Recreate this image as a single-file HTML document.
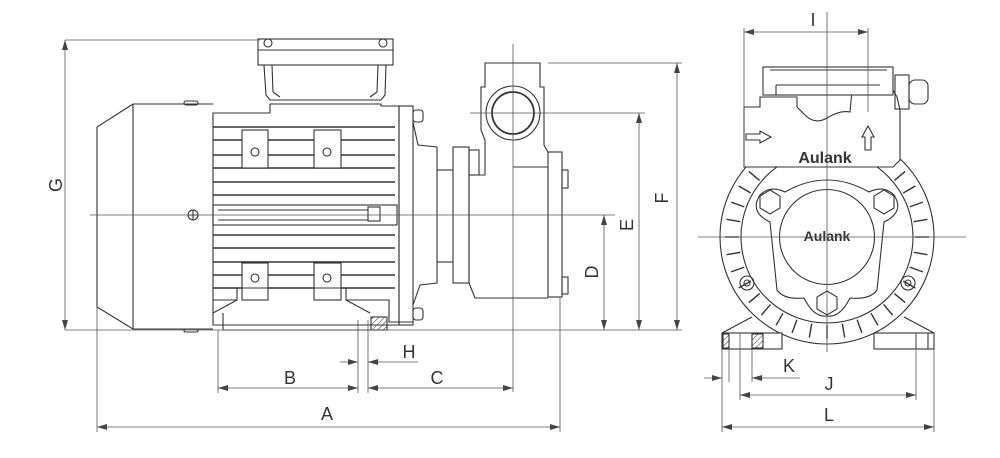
<!DOCTYPE html>
<html><head><meta charset="utf-8"><style>
html,body{margin:0;padding:0;background:#fff}
svg{display:block}
text{font-family:"Liberation Sans",sans-serif;fill:#333}
</style></head><body>
<svg width="1000" height="458" viewBox="0 0 1000 458" xmlns="http://www.w3.org/2000/svg">
<defs>
<marker id="ar" viewBox="0 0 10 6" refX="10" refY="3" markerWidth="10" markerHeight="6" orient="auto-start-reverse" markerUnits="userSpaceOnUse"><path d="M0,0 L10,3 L0,6 z" fill="#444"/></marker>
<pattern id="hatch" width="4" height="4" patternUnits="userSpaceOnUse" patternTransform="rotate(45)"><line x1="0" y1="0" x2="0" y2="4" stroke="#333" stroke-width="1"/></pattern>
</defs>
<rect width="1000" height="458" fill="#fff"/>

<!-- ===== LEFT VIEW ===== -->
<g fill="none" stroke="#333" stroke-width="1.1">
<path d="M213,104 L133,104 L97,127 L97,307 L133,329 L213,329"/>
<line x1="133" y1="104" x2="133" y2="329"/>
<rect x="184" y="101" width="14" height="4" rx="2"/>
<rect x="184" y="329" width="14" height="3" rx="1.5"/>
<circle cx="193" cy="215" r="5"/><line x1="188" y1="215" x2="198" y2="215"/><line x1="193" y1="210" x2="193" y2="220"/>
<path d="M213,113 L270,113 L270,104 L381,104 L381,106 L399,106 L399,325 L213,325 Z"/>
<g stroke-width="1.6">
<line x1="213" y1="127" x2="395" y2="127"/><line x1="213" y1="140" x2="395" y2="140"/>
<line x1="213" y1="155" x2="395" y2="155"/><line x1="213" y1="168" x2="395" y2="168"/>
<line x1="213" y1="182" x2="395" y2="182"/><line x1="213" y1="195" x2="395" y2="195"/>
<line x1="213" y1="235" x2="395" y2="235"/><line x1="213" y1="248" x2="395" y2="248"/>
<line x1="213" y1="262" x2="395" y2="262"/><line x1="213" y1="275" x2="395" y2="275"/>
<line x1="213" y1="288" x2="395" y2="288"/>
</g>
<rect x="213" y="205" width="184" height="20"/>
<line x1="218" y1="210" x2="368" y2="210"/><line x1="218" y1="220" x2="368" y2="220"/>
<rect x="368" y="207" width="12" height="14"/>
<rect x="242" y="130" width="26" height="38" fill="#fff"/><rect x="314" y="130" width="27" height="38" fill="#fff"/>
<rect x="242" y="263" width="26" height="37" fill="#fff"/><rect x="314" y="263" width="27" height="37" fill="#fff"/>
<circle cx="255" cy="152" r="4"/><circle cx="327" cy="152" r="4"/>
<circle cx="255" cy="278" r="4"/><circle cx="327" cy="278" r="4"/>
<rect x="258" y="39" width="135" height="26"/>
<line x1="258" y1="50" x2="393" y2="50"/>
<circle cx="268" cy="43" r="4"/><circle cx="383" cy="43" r="4"/>
<path d="M264,65 L266,95 L270,100 L381,100 L385,95 L386,65"/>
<line x1="272" y1="65" x2="273" y2="92"/><line x1="378" y1="65" x2="377" y2="92"/>
<path d="M273,92 L280,97 M377,92 L370,97"/>
<path d="M213,300 L237,300 L237,288 L346,288 L346,300 L389,300 L389,322 L413,322"/>
<path d="M213,313 L237,300 M346,300 L370,313"/>
<path d="M223,313 L223,330 L389,330"/>
<rect x="371" y="317" width="16" height="13" fill="url(#hatch)"/>
<rect x="399" y="106" width="14" height="219"/>
<rect x="413" y="110" width="10" height="12" rx="3"/><rect x="413" y="308" width="10" height="12" rx="3"/>
<path d="M413,122 L418,145 L437,147 L437,283 L420,285 L413,305"/>
<line x1="437" y1="170" x2="453" y2="170"/><line x1="437" y1="262" x2="453" y2="262"/>
<rect x="453" y="147" width="16" height="136"/>
<rect x="469" y="150" width="10" height="25"/>
<path d="M469,175 L485,175 L485,140 L481,130 L481,87 L485,87 L485,63 L540,63 L540,87 L544,87 L544,145 L548,152"/>
<path d="M469,175 L469,283 L475,298 L548,298"/>
<line x1="513" y1="167" x2="548" y2="167"/>
<rect x="548" y="152" width="14" height="145"/>
<rect x="562" y="170" width="6" height="18"/><rect x="562" y="277" width="6" height="17"/>
<circle cx="513" cy="113" r="27"/>
<circle cx="513" cy="113" r="21" stroke-width="1.8"/>
</g>

<g stroke="#555" stroke-width="0.8" fill="none">
<line x1="90" y1="215" x2="615" y2="215"/>
<line x1="513" y1="44" x2="513" y2="392"/>
<line x1="470" y1="113" x2="645" y2="113"/>
<line x1="548" y1="63" x2="682" y2="63"/>
<line x1="65" y1="40" x2="260" y2="40"/>
<line x1="65" y1="330" x2="682" y2="330"/>
<line x1="65" y1="40" x2="65" y2="330" marker-start="url(#ar)" marker-end="url(#ar)"/>
<line x1="604" y1="215" x2="604" y2="330" marker-start="url(#ar)" marker-end="url(#ar)"/>
<line x1="639" y1="113" x2="639" y2="330" marker-start="url(#ar)" marker-end="url(#ar)"/>
<line x1="677" y1="63" x2="677" y2="330" marker-start="url(#ar)" marker-end="url(#ar)"/>
<line x1="97" y1="307" x2="97" y2="432"/>
<line x1="560" y1="297" x2="560" y2="432"/>
<line x1="218" y1="330" x2="218" y2="393"/>
<line x1="358" y1="320" x2="358" y2="393"/>
<line x1="368" y1="320" x2="368" y2="393"/>
<line x1="218" y1="388" x2="358" y2="388" marker-start="url(#ar)" marker-end="url(#ar)"/>
<line x1="368" y1="388" x2="513" y2="388" marker-start="url(#ar)" marker-end="url(#ar)"/>
<line x1="340" y1="362" x2="358" y2="362" marker-end="url(#ar)"/>
<line x1="418" y1="362" x2="368" y2="362" marker-end="url(#ar)"/>
<line x1="97" y1="427" x2="560" y2="427" marker-start="url(#ar)" marker-end="url(#ar)"/>
</g>
<g font-size="18">
<text x="62" y="185" transform="rotate(-90 62 185)" text-anchor="middle">G</text>
<text x="598" y="272" transform="rotate(-90 598 272)" text-anchor="middle">D</text>
<text x="633" y="225" transform="rotate(-90 633 225)" text-anchor="middle">E</text>
<text x="668" y="198" transform="rotate(-90 668 198)" text-anchor="middle">F</text>
<text x="290" y="384" text-anchor="middle">B</text>
<text x="409" y="358" text-anchor="middle">H</text>
<text x="437" y="384" text-anchor="middle">C</text>
<text x="327" y="420" text-anchor="middle">A</text>
</g>

<!-- ===== RIGHT VIEW ===== -->
<g fill="none" stroke="#333" stroke-width="1.1">
<circle cx="827" cy="237" r="107"/>
<circle cx="827" cy="237" r="86"/>
<g stroke-width="1.4">
<line x1="915" y1="237" x2="929" y2="237" transform="rotate(-40 827 237)"/>
<line x1="915" y1="237" x2="929" y2="237" transform="rotate(-30 827 237)"/>
<line x1="915" y1="237" x2="929" y2="237" transform="rotate(-20 827 237)"/>
<line x1="915" y1="237" x2="929" y2="237" transform="rotate(-10 827 237)"/>
<line x1="915" y1="237" x2="929" y2="237"/>
<line x1="915" y1="237" x2="929" y2="237" transform="rotate(10 827 237)"/>
<line x1="915" y1="237" x2="929" y2="237" transform="rotate(20 827 237)"/>
<line x1="915" y1="237" x2="929" y2="237" transform="rotate(30 827 237)"/>
<line x1="915" y1="237" x2="929" y2="237" transform="rotate(40 827 237)"/>
<line x1="915" y1="237" x2="929" y2="237" transform="rotate(50 827 237)"/>
<line x1="915" y1="237" x2="929" y2="237" transform="rotate(60 827 237)"/>
<line x1="915" y1="237" x2="929" y2="237" transform="rotate(70 827 237)"/>
<line x1="915" y1="237" x2="929" y2="237" transform="rotate(80 827 237)"/>
<line x1="915" y1="237" x2="929" y2="237" transform="rotate(90 827 237)"/>
<line x1="915" y1="237" x2="929" y2="237" transform="rotate(100 827 237)"/>
<line x1="915" y1="237" x2="929" y2="237" transform="rotate(110 827 237)"/>
<line x1="915" y1="237" x2="929" y2="237" transform="rotate(120 827 237)"/>
<line x1="915" y1="237" x2="929" y2="237" transform="rotate(130 827 237)"/>
<line x1="915" y1="237" x2="929" y2="237" transform="rotate(140 827 237)"/>
<line x1="915" y1="237" x2="929" y2="237" transform="rotate(150 827 237)"/>
<line x1="915" y1="237" x2="929" y2="237" transform="rotate(160 827 237)"/>
<line x1="915" y1="237" x2="929" y2="237" transform="rotate(170 827 237)"/>
<line x1="915" y1="237" x2="929" y2="237" transform="rotate(180 827 237)"/>
<line x1="915" y1="237" x2="929" y2="237" transform="rotate(190 827 237)"/>
<line x1="915" y1="237" x2="929" y2="237" transform="rotate(200 827 237)"/>
<line x1="915" y1="237" x2="929" y2="237" transform="rotate(210 827 237)"/>
<line x1="915" y1="237" x2="929" y2="237" transform="rotate(220 827 237)"/>
</g>
<path d="M744,167 L744,107 L760,107 L760,97 L797,97 L797,107 L805,115 Q815,125 827,118 Q840,110 850,112 L852,90 L893,90 L897,97 L900,110 L900,160 L893,167 Z" fill="#fff"/>
<rect x="763" y="67" width="130" height="28" fill="#fff"/>
<line x1="770" y1="70" x2="887" y2="70"/>
<line x1="776" y1="95" x2="776" y2="85"/><line x1="776" y1="85" x2="880" y2="85"/>
<rect x="895" y="75" width="14" height="34"/>
<rect x="909" y="80" width="19" height="24" rx="6"/>
<path d="M746,134 L760,134 L760,131 L771,137 L760,143 L760,140 L746,140 Z"/>
<path d="M865,150 L865,137 L862,137 L868,126 L874,137 L871,137 L871,150 Z"/>
<path d="M760,195 Q770,185 785,192 Q827,168 869,192 Q884,185 894,195 Q905,212 884,222 L877,290 Q870,300 850,298 Q840,318 827,316 Q814,318 804,298 Q784,300 777,290 L770,222 Q749,212 760,195 Z" fill="#fff"/>
<polygon points="770,190 780,196 780,208 770,214 760,208 760,196"/>
<polygon points="884,190 894,196 894,208 884,214 874,208 874,196"/>
<polygon points="827,291 837,297 837,309 827,315 817,309 817,297"/>
<circle cx="827" cy="237" r="47.5" fill="#fff"/>
<circle cx="747" cy="283" r="7"/><circle cx="747" cy="283" r="3"/>
<circle cx="908" cy="283" r="7"/><circle cx="908" cy="283" r="3"/>
<path d="M722,333 L752,317 M934,333 L904,317"/>
<rect x="722" y="333" width="60" height="16" fill="#fff"/>
<rect x="874" y="333" width="60" height="16" fill="#fff"/>
<rect x="723" y="334" width="6" height="14" fill="url(#hatch)"/>
<rect x="752" y="334" width="11" height="14" fill="url(#hatch)"/>
<line x1="916" y1="333" x2="916" y2="349"/><line x1="928" y1="333" x2="928" y2="349"/>
</g>
<g font-weight="bold" text-anchor="middle">
<text x="825" y="163" font-size="16">Aulank</text>
<text x="827" y="241" font-size="14">Aulank</text>
</g>
<g stroke="#555" stroke-width="0.8" fill="none">
<line x1="827" y1="12" x2="827" y2="352"/>
<line x1="698" y1="237" x2="966" y2="237"/>
<line x1="744" y1="28" x2="744" y2="167"/>
<line x1="868" y1="28" x2="868" y2="112"/>
<line x1="744" y1="32" x2="868" y2="32" marker-start="url(#ar)" marker-end="url(#ar)"/>
<line x1="722" y1="349" x2="722" y2="432"/>
<line x1="729" y1="349" x2="729" y2="382"/>
<line x1="752" y1="349" x2="752" y2="382"/>
<line x1="740" y1="333" x2="740" y2="400"/>
<line x1="916" y1="333" x2="916" y2="400"/>
<line x1="934" y1="349" x2="934" y2="432"/>
<line x1="704" y1="378" x2="722" y2="378" marker-end="url(#ar)"/>
<line x1="800" y1="378" x2="752" y2="378" marker-end="url(#ar)"/>
<line x1="740" y1="395" x2="916" y2="395" marker-start="url(#ar)" marker-end="url(#ar)"/>
<line x1="722" y1="427" x2="934" y2="427" marker-start="url(#ar)" marker-end="url(#ar)"/>
</g>
<g font-size="18" text-anchor="middle">
<text x="813" y="26">I</text>
<text x="789" y="372">K</text>
<text x="829" y="390">J</text>
<text x="829" y="421">L</text>
</g>
</svg>
</body></html>
